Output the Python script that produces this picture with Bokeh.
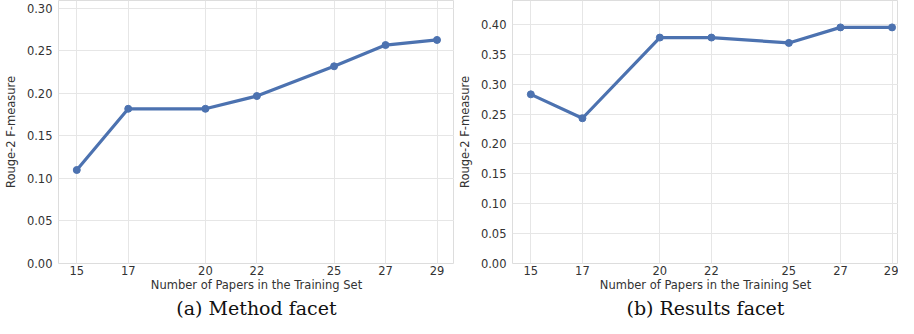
from bokeh.plotting import figure
from bokeh.layouts import row
from bokeh.models import FixedTicker, Range1d, Title, CustomJSTickFormatter
from bokeh.embed import file_html
from bokeh.resources import INLINE

papers = [15, 17, 20, 22, 25, 27, 29]
method_scores = [0.110, 0.182, 0.182, 0.197, 0.232, 0.257, 0.263]
results_scores = [0.283, 0.243, 0.378, 0.378, 0.369, 0.395, 0.395]
method_yticks = [0.00, 0.05, 0.10, 0.15, 0.20, 0.25, 0.30]
results_yticks = [0.00, 0.05, 0.10, 0.15, 0.20, 0.25, 0.30, 0.35, 0.40]
captions = ["(a) Method facet", "(b) Results facet"]
x_label = "Number of Papers in the Training Set"
y_label = "Rouge-2 F-measure"

LINE = "#4c72b0"
GRID = "#e6e6e6"
TXT = "#333333"


def make_panel(ys, yticks, y_end, x_end, width, left, caption):
    p = figure(width=width, height=318, output_backend="svg", toolbar_location=None,
               x_range=Range1d(14.29, x_end), y_range=Range1d(0, y_end),
               min_border_left=left, min_border_right=0, min_border_top=0,
               min_border_bottom=0)
    p.line(papers, ys, line_color=LINE, line_width=3.2)
    p.scatter(papers, ys, size=7, fill_color=LINE, line_color=LINE)
    p.xaxis.ticker = FixedTicker(ticks=papers)
    p.yaxis.ticker = FixedTicker(ticks=yticks)
    p.yaxis.formatter = CustomJSTickFormatter(code="return tick.toFixed(2);")
    for ax in (p.xaxis, p.yaxis):
        ax.axis_line_color = None
        ax.major_tick_line_color = None
        ax.minor_tick_line_color = None
        ax.major_tick_out = 0
        ax.major_tick_in = 0
        ax.major_label_text_font = "DejaVu Sans"
        ax.major_label_text_font_size = "11.5px"
        ax.major_label_text_color = TXT
        ax.axis_label_text_font = "DejaVu Sans"
        ax.axis_label_text_font_size = "11.5px"
        ax.axis_label_text_font_style = "normal"
        ax.axis_label_text_color = TXT
    p.xaxis.major_label_standoff = 2
    p.yaxis.major_label_standoff = 6
    p.xaxis.axis_label = x_label
    p.yaxis.axis_label = y_label
    p.xaxis.axis_label_standoff = 0
    p.yaxis.axis_label_standoff = 6
    p.xgrid.grid_line_color = GRID
    p.ygrid.grid_line_color = GRID
    p.outline_line_color = "#dddddd"
    p.add_layout(Title(text=caption, align="center", text_font="DejaVu Serif",
                       text_font_size="19px", text_font_style="normal",
                       text_color="#111111", standoff=0, offset=0), "below")
    return p


p1 = make_panel(method_scores, method_yticks, 0.3094, 29.68, 454, 46, captions[0])
p2 = make_panel(results_scores, results_yticks, 0.440, 29.25, 444, 56, captions[1])

layout = row(p1, p2)
open("out.html", "w").write(file_html(layout, INLINE))
